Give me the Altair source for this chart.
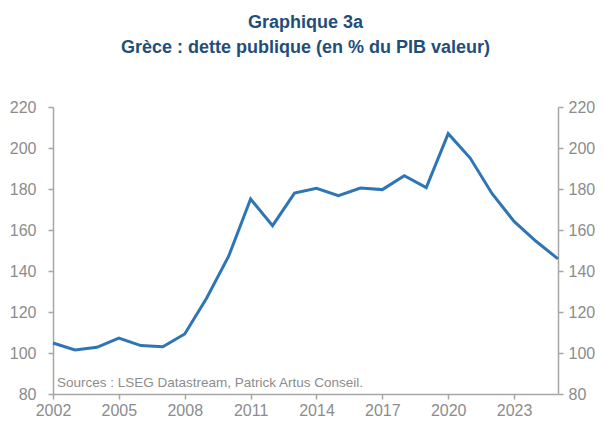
import altair as alt
import pandas as pd

years = list(range(2002, 2026))
debt = [104.9, 101.5, 102.8, 107.3, 103.6, 103.0, 109.3, 126.8, 147.2, 175.1,
        162.1, 178.0, 180.3, 176.7, 180.5, 179.7, 186.5, 180.7, 207.0, 195.1,
        177.7, 164.2, 154.5, 145.9]
x_ticks = [2002, 2005, 2008, 2011, 2014, 2017, 2020, 2023]
y_ticks = [80, 100, 120, 140, 160, 180, 200, 220]
title_lines = ["Graphique 3a", "Grèce : dette publique (en % du PIB valeur)"]
source = "Sources : LSEG Datastream, Patrick Artus Conseil."

df = pd.DataFrame({"year": years, "debt": debt})

FONT = "Liberation Sans, Arial"
GRAY = "#8c8c8c"
AXIS = "#a6a6a6"
BLUE = "#2E75B6"

xenc = alt.X("year:Q", scale=alt.Scale(domain=[2002, 2025], nice=False, zero=False),
             axis=alt.Axis(values=x_ticks, format="d", title=None, grid=False,
                           domainColor=AXIS, tickColor=AXIS, tickSize=5,
                           labelColor=GRAY, labelFontSize=16, labelFont=FONT,
                           labelPadding=3, domainWidth=1.5, tickWidth=1.5,
                           labelFlush=False))

yscale = alt.Scale(domain=[80, 220], nice=False, zero=False)

def yaxis(orient, pad):
    return alt.Axis(orient=orient, values=y_ticks, title=None, grid=False,
                    domainColor=AXIS, tickColor=AXIS, tickSize=5,
                    labelColor=GRAY, labelFontSize=16, labelFont=FONT,
                    labelPadding=pad, domainWidth=1.5, tickWidth=1.5,
                    labelFlush=False)

line = alt.Chart(df).mark_line(color=BLUE, strokeWidth=3).encode(
    x=xenc, y=alt.Y("debt:Q", scale=yscale, axis=yaxis("left", 12)))

line_r = alt.Chart(df).mark_line(opacity=0).encode(
    x=xenc, y=alt.Y("debt:Q", scale=yscale, axis=yaxis("right", 5)))

txt = alt.Chart(pd.DataFrame({"t": [source]})).mark_text(
    align="left", baseline="alphabetic", font=FONT, fontSize=13.5, color=GRAY
).encode(x=alt.value(4), y=alt.value(280), text="t:N")

chart = alt.layer(line, line_r, txt).resolve_axis(y="independent").properties(
    width=505, height=287,
    autosize=alt.AutoSizeParams(type="none"),
    padding={"left": 45, "top": 99, "right": 37, "bottom": 24},
    title=alt.TitleParams(text=title_lines, font=FONT, fontSize=18, fontWeight="bold",
                          color="#1F4E79", anchor="middle", offset=42, lineHeight=25)
).configure_view(stroke=None)

chart.save("out.html", embed_options={"renderer": "svg", "actions": False})
